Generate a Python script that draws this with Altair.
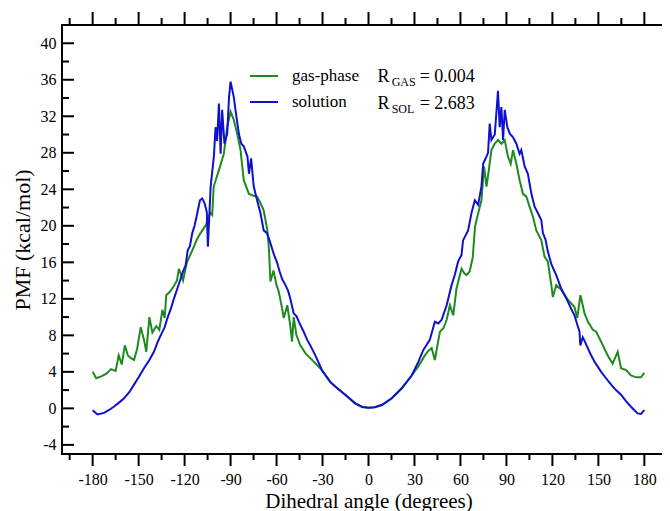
import altair as alt
import pandas as pd

# ---- data ----
gas_x = [-180, -177.7, -174.4, -171, -168, -165, -163, -161, -159, -157, -155, -153, -151,
         -148.6, -146.5, -145, -143, -141, -138.5, -136.5, -134.5, -133, -132, -129.5, -127,
         -125, -123.7, -121, -118.5, -115, -112, -109.6, -106, -104.5, -103, -102, -101,
         -97.6, -94.4, -92.2, -90, -87.9, -85.7, -83.5, -81.4, -78, -75, -72.7, -70.5, -68.4,
         -66, -65, -64, -62, -60, -58.6, -57, -55.3, -53, -51, -49.9, -48.8, -47, -44.5, -41,
         -38, -35, -31.5, -28, -25, -21.7, -15.2, -8.7, -4, 0, 4, 8.7, 15.2, 21.7, 28.2,
         32.5, 36.8, 39, 41.2, 43.3, 46.6, 49, 51, 53.1, 55.3, 57.4, 60.7, 62.5, 64, 66, 68,
         69.5, 71, 73.7, 75.4, 77, 78.5, 80.2, 82.4, 84.5, 86.7, 88.9, 91, 92.8, 94.3, 96.5,
         98.6, 100.8, 103, 105.1, 107.3, 109.5, 112.8, 114.9, 117, 119.3, 120.3, 122.5, 125.8,
         130.1, 134.4, 136.2, 138.3, 141, 143.1, 146.4, 148.6, 151.8, 156.1, 159.3, 162.6,
         164.8, 168.1, 171.3, 174.6, 177.8, 180]
gas_y = [4.0, 3.3, 3.5, 3.8, 4.3, 4.1, 5.8, 4.8, 6.9, 5.8, 5.5, 5.3, 6.5,
         8.9, 7.5, 6.2, 10.0, 8.3, 9.0, 8.6, 10.8, 9.9, 12.4, 12.8, 13.4,
         14.0, 15.3, 14.0, 16.0, 17.3, 18.5, 19.2, 20.1, 21.0, 21.4, 21.2, 24.3,
         26.1, 27.9, 30.8, 32.5, 31.6, 30.1, 28.3, 25.0, 23.5, 23.3, 23.2, 22.5, 21.7,
         19.5, 17.5, 13.9, 15.1, 13.5, 12.8, 11.5, 9.9, 11.3, 9.0, 7.3, 10.0, 8.0, 6.9, 6.0,
         5.5, 5.0, 4.4, 3.6, 2.9, 2.4, 1.5, 0.55, 0.15, 0.07, 0.12, 0.36, 1.1, 2.2, 3.6,
         4.6, 5.8, 6.3, 6.6, 5.3, 8.4, 8.8, 9.7, 11.3, 10.2, 13.1, 15.3, 14.8, 14.6, 15.0, 16.5,
         19.9, 21.0, 22.8, 26.5, 24.3, 26.1, 28.3, 29.0, 29.4, 29.0, 29.4, 27.6, 26.8, 28.3, 26.8,
         25.0, 23.5, 23.2, 22.1, 21.0, 19.5, 18.4, 16.6, 16.1, 13.5, 12.2, 13.5, 13.0,
         11.9, 11.1, 9.9, 12.4, 10.4, 9.5, 8.6, 8.4, 7.3, 5.8, 4.9, 6.2,
         4.4, 4.2, 3.6, 3.4, 3.4, 3.9]

sol_x = [-180, -178, -176.8, -172.5, -169, -166, -163, -159.5, -156, -153, -150, -146.5,
         -143, -140, -137.5, -135.6, -133, -131, -129, -127, -125, -122.6, -121, -119.3,
         -118, -116.5, -115, -113.5, -111.7, -110, -108.5, -107, -105.5, -104.8, -103,
         -100.9, -99.8, -98.8, -97.6, -96.5, -95.5, -94, -92.2, -91, -90, -87.9, -86.8,
         -84.6, -83, -81.4, -79, -78, -76.6, -74.9, -72.7, -70.5, -68.4, -66.2, -64, -62,
         -59.7, -58, -56.4, -54.2, -52.5, -51, -48.8, -47, -45.5, -42.3, -40, -38, -34.7,
         -30.4, -25, -21.7, -15.2, -8.7, -4, 0, 4, 8.7, 15.2, 21.7, 28.2, 32.5, 35.8, 40,
         43.3, 45.5, 47.7, 51, 54.2, 56.3, 58.5, 60.7, 61.7, 65, 67.2, 69.4, 71.5, 73.7,
         74.8, 77, 78, 79.1, 80.2, 82.4, 84.5, 85.6, 86.7, 87.8, 88.9, 90.6, 92.2, 94.3,
         96.5, 98.6, 99.7, 101.9, 104, 106.3, 108.4, 110.5, 112.8, 113.8, 115.5, 117,
         119.3, 122.5, 125.8, 128, 130.1, 132, 134.4, 136, 137.7, 138.2, 139.8, 141.5,
         143.1, 145, 147.5, 149.5, 151.8, 155, 158.3, 161.5, 164.8, 168, 171.3, 173.5,
         175.6, 177.8, 180]
sol_y = [-0.2, -0.5, -0.66, -0.5, -0.15, 0.2, 0.6, 1.1, 1.8, 2.6, 3.4, 4.4,
         5.3, 6.2, 7.3, 8.0, 8.9, 10.0, 10.9, 12.0, 13.0, 14.2, 15.0, 15.7,
         17.3, 17.8, 19.2, 20.0, 21.4, 22.8, 23.0, 22.5, 21.5, 17.7, 24.3,
         27.6, 30.8, 29.3, 33.4, 27.9, 32.7, 29.0, 30.1, 34.1, 35.8, 34.1, 32.7,
         30.1, 29.0, 28.7, 27.6, 25.7, 27.4, 24.3, 22.8, 21.4, 19.5, 19.2, 18.1, 17.0,
         16.0, 15.0, 14.2, 13.5, 12.9, 12.0, 10.4, 10.1, 9.5, 8.4, 7.5, 6.9, 5.8,
         4.2, 2.9, 2.4, 1.5, 0.55, 0.15, 0.07, 0.12, 0.36, 1.1, 2.2, 3.6, 5.1, 6.4, 7.5,
         9.5, 9.3, 9.7, 11.3, 13.5, 14.6, 16.1, 16.8, 18.4, 19.5, 21.4, 22.8, 22.3, 24.3,
         26.8, 27.6, 28.0, 31.2, 29.4, 30.0, 34.8, 30.8, 33.0, 29.4, 32.7, 30.8, 30.1, 29.7,
         29.0, 27.9, 28.3, 26.5, 25.7, 23.5, 22.1, 21.4, 20.6, 19.2, 18.5, 17.2,
         15.8, 14.6, 13.1, 12.4, 11.7, 11.0, 10.2, 9.3, 8.4, 6.9, 7.8, 7.2,
         6.6, 5.9, 5.1, 4.6, 4.0, 3.3, 2.6, 2.0, 1.5, 0.8, 0.18, -0.2,
         -0.55, -0.6, -0.2]

series_names = ["gas-phase", "solution"]
series_colors = ["#1f8b1f", "#1010d0"]

x_major = list(range(-180, 181, 30))
x_minor = list(range(-195, 196, 30))
y_major = list(range(-4, 41, 4))
y_minor = list(range(-2, 41, 4))

r_main = ["R", "R"]
r_sub = ["GAS", "SOL"]
r_val = ["= 0.004", "= 2.683"]

# ---- layout ----
W, H = 613, 429
FONT = "Liberation Serif"
HYPHEN_LABEL = "replace(datum.label, '\u2212', '-')"

df = pd.concat([
    pd.DataFrame({"x": gas_x, "y": gas_y, "s": series_names[0], "o": range(len(gas_x))}),
    pd.DataFrame({"x": sol_x, "y": sol_y, "s": series_names[1], "o": range(len(sol_x))}),
])

xs = alt.Scale(domain=[-200, 200], nice=False, zero=False)
ys = alt.Scale(domain=[-5, 42], nice=False, zero=False)

x_axis = alt.Axis(
    values=x_major, ticks=False, tickSize=0, domain=False, grid=False,
    labelFont=FONT, labelFontSize=16, labelColor="black", labelPadding=17,
    labelExpr=HYPHEN_LABEL,
    title="Dihedral angle (degrees)", titleFont=FONT, titleFontSize=21,
    titleFontWeight="normal", titleColor="black", titleBaseline="alphabetic",
    titleY=53)
y_axis = alt.Axis(
    values=y_major, ticks=False, tickSize=0, domain=False, grid=False,
    labelFont=FONT, labelFontSize=16, labelColor="black", labelPadding=6,
    labelExpr=HYPHEN_LABEL,
    title="PMF (kcal/mol)", titleFont=FONT, titleFontSize=22,
    titleFontWeight="normal", titleColor="black", titleBaseline="alphabetic",
    titleX=-33, titleY=H / 2)

lines = alt.Chart(df).mark_line(strokeWidth=2, strokeJoin="miter").encode(
    x=alt.X("x:Q", scale=xs, axis=x_axis, title="Dihedral angle (degrees)"),
    y=alt.Y("y:Q", scale=ys, axis=y_axis, title="PMF (kcal/mol)"),
    color=alt.Color("s:N", scale=alt.Scale(domain=series_names, range=series_colors),
                    legend=alt.Legend(orient="none", legendX=187, legendY=36, title=None,
                                      symbolType="stroke", symbolSize=784,
                                      symbolStrokeWidth=2, labelFont=FONT,
                                      labelFontSize=17, labelColor="black",
                                      labelOffset=13, padding=0, rowPadding=3)),
    order="o:Q",
    detail="s:N",
)

def xticks(vals, y0, y1):
    return alt.Chart(pd.DataFrame({"x": vals})).mark_rule(color="black", strokeWidth=2).encode(
        x=alt.X("x:Q", scale=xs, axis=x_axis, title="Dihedral angle (degrees)"),
        y=alt.value(y0), y2=alt.value(y1))

def yticks(vals, x0, x1):
    return alt.Chart(pd.DataFrame({"y": vals})).mark_rule(color="black", strokeWidth=2).encode(
        y=alt.Y("y:Q", scale=ys, axis=y_axis, title="PMF (kcal/mol)"),
        x=alt.value(x0), x2=alt.value(x1))

tick_layers = [
    xticks(x_major, H, H + 12), xticks(x_minor, H, H + 6),
    xticks(x_major, 0, -13), xticks(x_minor, 0, -7),
    yticks(y_major, 0, 12), yticks(y_minor, 0, 7),
    yticks(y_major, W - 12, W), yticks(y_minor, W - 7, W),
]

def txt(s, x, y, size):
    return alt.Chart(pd.DataFrame({"t": [s]})).mark_text(
        font=FONT, fontSize=size, color="black", align="left", baseline="alphabetic"
    ).encode(text="t:N", x=alt.value(x), y=alt.value(y))

ann = []
for i in range(2):
    dy = 27 * i
    ann.append(txt(r_main[i], 315.5, 56.7 + dy, 18))
    ann.append(txt(r_sub[i], 329.7, 60.7 + dy, 12))
    ann.append(txt(r_val[i], 357.7, 56.7 + dy, 18))

chart = alt.layer(lines, *tick_layers, *ann).properties(
    width=W, height=H,
    background="white",
    autosize=alt.AutoSizeParams(type="none"),
    padding={"left": 54, "top": 17, "right": -13, "bottom": 57},
).configure_view(stroke="black", strokeWidth=2)

chart.save("out.html", embed_options={"renderer": "svg", "actions": False})
